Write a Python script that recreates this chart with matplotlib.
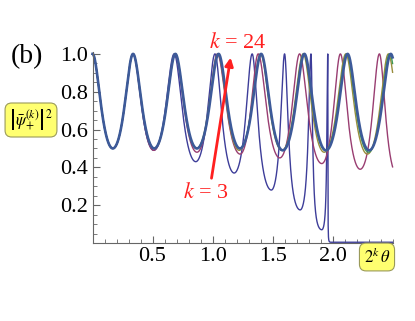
import numpy as np
import matplotlib.pyplot as plt
from matplotlib.ticker import MultipleLocator

plt.rcParams['mathtext.fontset'] = 'stix'
plt.rcParams['font.family'] = ['Liberation Serif', 'DejaVu Serif']

# extrema: (x, |psi|^2) alternating peak / trough
k3_x = [0, 0.169, 0.3375, 0.51, 0.68, 0.86, 1.02, 1.18, 1.33, 1.49, 1.60, 1.73, 1.82, 1.91, 1.96, 1.985, 2.5]
k3_y = [1.0, 0.5, 1.0, 0.49, 1.0, 0.43, 1.0, 0.37, 1.0, 0.28, 1.0, 0.175, 1.0, 0.07, 1.0, 0.004, 0.004]

k6_x = [0, 0.169, 0.3375, 0.51, 0.6875, 0.87, 1.04, 1.23, 1.38, 1.56, 1.725, 1.91, 2.065, 2.23, 2.39, 2.54]
k6_y = [1.0, 0.5, 1.0, 0.49, 1.0, 0.48, 1.0, 0.47, 1.0, 0.45, 1.0, 0.42, 1.0, 0.39, 1.0, 0.36]

k9_x = [0, 0.169, 0.3375, 0.514, 0.69, 0.867, 1.045, 1.222, 1.40, 1.578, 1.755, 1.93, 2.11, 2.29, 2.465, 2.64]
k9_y = [1.0, 0.5, 1.0, 0.5, 1.0, 0.5, 1.0, 0.49, 1.0, 0.49, 1.0, 0.48, 1.0, 0.47, 1.0, 0.47]

k12_x = [0, 0.169, 0.3375, 0.514, 0.69, 0.869, 1.048, 1.225, 1.403, 1.582, 1.76, 1.94, 2.118, 2.30, 2.475, 2.65]
k12_y = [1.0, 0.5, 1.0, 0.5, 1.0, 0.5, 1.0, 0.5, 1.0, 0.49, 1.0, 0.49, 1.0, 0.48, 1.0, 0.48]

k24_x = [0, 0.169, 0.3375, 0.514, 0.69, 0.87, 1.05, 1.228, 1.405, 1.585, 1.765, 1.945, 2.125, 2.305, 2.485, 2.66]
k24_y = [1.0, 0.5, 1.0, 0.5, 1.0, 0.5, 1.0, 0.5, 1.0, 0.49, 1.0, 0.49, 1.0, 0.49, 1.0, 0.49]


def airy_between(xe, ye, x):
    # Airy-like lineshape between successive extrema
    y = np.zeros_like(x)
    for i in range(len(xe) - 1):
        a, b = xe[i], xe[i + 1]
        m = (x >= a) & (x <= b)
        ya, yb = ye[i], ye[i + 1]
        if ya == yb:
            y[m] = ya
            continue
        if ya > yb:
            hi, lo, u = ya, yb, (x[m] - a) / (b - a)
        else:
            hi, lo, u = yb, ya, (b - x[m]) / (b - a)
        F = hi / lo - 1
        y[m] = hi / (1 + F * np.sin(u * np.pi / 2) ** 2)
    return y


x = np.linspace(0, 2.5, 3000)

fig = plt.figure(figsize=(4.15, 3.21), dpi=100)
ax = fig.add_axes([0.223, 0.243, 0.723, 0.595])

curves = [(k3_x, k3_y, '#3d3d99', 1.0),
          (k6_x, k6_y, '#993d71', 1.0),
          (k9_x, k9_y, '#998d3d', 1.0),
          (k12_x, k12_y, '#3d9956', 1.0),
          (k24_x, k24_y, '#3d5a99', 1.9)]
for xe, ye, c, lw in curves:
    ax.plot(x, airy_between(xe, ye, x), color=c, lw=lw, clip_on=False)

ax.set_xlim(0, 2.5)
ax.set_ylim(0, 1.01)
ax.spines['top'].set_visible(False)
ax.spines['right'].set_visible(False)
for s in ['left', 'bottom']:
    ax.spines[s].set_color('#666666')
    ax.spines[s].set_linewidth(0.8)

ax.set_xticks([0.5, 1.0, 1.5, 2.0])
ax.set_yticks([0.2, 0.4, 0.6, 0.8, 1.0])
ax.xaxis.set_minor_locator(MultipleLocator(0.1))
ax.yaxis.set_minor_locator(MultipleLocator(0.05))
ax.tick_params(which='both', direction='in', color='#666666', labelsize=16, pad=3)
ax.tick_params(which='major', length=5)
ax.tick_params(which='minor', length=3)

# arrow and labels
ax.annotate('', xy=(1.154, 0.995), xytext=(0.9875, 0.328),
            arrowprops=dict(arrowstyle='-|>', color='#ff2020', lw=2, mutation_scale=12),
            annotation_clip=False)
ax.text(0.946, 0.265, '$k$ = 3', color='#ff2020', fontsize=16, ha='center', va='center')
ax.text(1.21, 1.058, '$k$ = 24', color='#ff2020', fontsize=16, ha='center', va='center',
        clip_on=False)

fig.text(27 / 415, 1 - 57 / 321, '(b)', fontsize=20, ha='center', va='center')

box = dict(boxstyle='round,pad=0.25,rounding_size=0.4', fc='#ffff70', ec='#9a9a5a', lw=0.8)
fig.text(31 / 415, 1 - 120 / 321, r'$\left|\bar{\psi}_{+}^{(k)}\right|^2$', fontsize=12,
         ha='center', va='center', bbox=box)
fig.text(377 / 415, 1 - 257 / 321, r'$2^k\,\theta$', fontsize=12,
         ha='center', va='center', bbox=box)

fig.savefig('out.png', dpi=100)
